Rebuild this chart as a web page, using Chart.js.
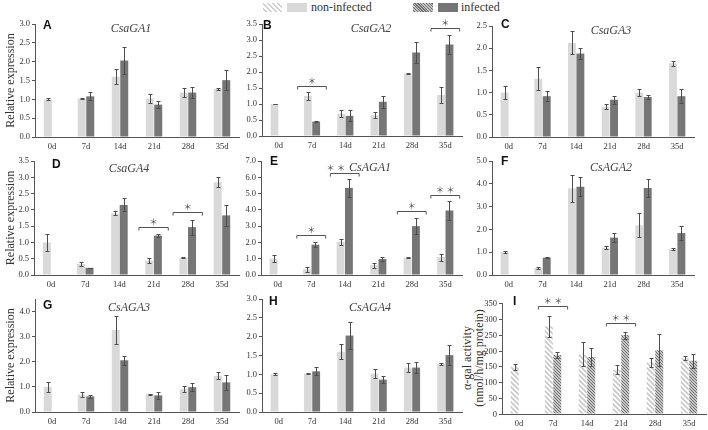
<!DOCTYPE html>
<html lang="en">
<head>
<meta charset="UTF-8" />
<title>GA / AGA expression and alpha-gal activity</title>
<script src="https://cdn.jsdelivr.net/npm/chart.js"></script>
<style>
  body { margin: 0; width: 708px; height: 430px; position: relative; overflow: hidden; background: #fff; font-family: 'Liberation Serif', 'Times New Roman', 'DejaVu Serif', serif; }
  canvas { position: absolute; }
  .lg { position: absolute; top: 3px; height: 9px; }
  .lg-text { position: absolute; top: 0; font-size: 12px; line-height: 15px; color: #333; }
  .side { position: absolute; width: 130px; height: 12px; line-height: 12px; font-size: 12px; text-align: center; color: #333; transform: rotate(-90deg); white-space: nowrap; }
</style>
</head>
<body>
  <!-- shared legend -->
  <div class="lg" style="left:263px;width:19px;background:repeating-linear-gradient(45deg,#fff 0 2px,#cfcfcf 2px 3.5px);"></div>
  <div class="lg" style="left:287px;width:20px;background:#d9d9d9;"></div>
  <div class="lg-text" style="left:311px;">non-infected</div>
  <div class="lg" style="left:413px;width:20px;background:repeating-linear-gradient(45deg,#c4c4c4 0 1px,#707070 1px 2px);"></div>
  <div class="lg" style="left:438px;width:20px;background:#767676;"></div>
  <div class="lg-text" style="left:461px;">infected</div>
  <!-- y title of panel I -->
  <div class="side" style="left:402px;top:352px;">α-gal activity</div>
  <div class="side" style="left:414px;top:352px;">(nmol/h/mg protein)</div>

<script>
  const days = ['0d', '7d', '14d', '21d', '28d', '35d'];

  // A  CsaGA1
  const csaGA1Non = [1.00, 1.02, 1.60, 1.02, 1.18, 1.28];
  const csaGA1NonSd = [0.03, 0.02, 0.20, 0.12, 0.11, 0.03];
  const csaGA1Inf = [null, 1.08, 2.03, 0.86, 1.18, 1.51];
  const csaGA1InfSd = [null, 0.11, 0.35, 0.10, 0.15, 0.26];

  // B  CsaGA2
  const csaGA2Non = [1.00, 1.25, 0.70, 0.65, 1.95, 1.28];
  const csaGA2NonSd = [0.01, 0.11, 0.10, 0.09, 0.01, 0.26];
  const csaGA2Inf = [null, 0.45, 0.63, 1.07, 2.61, 2.86];
  const csaGA2InfSd = [null, 0.01, 0.17, 0.18, 0.32, 0.29];
  const csaGA2Sig = [[1, 1.57, '*'], [5, 3.39, '*']];

  // C  CsaGA3
  const csaGA3Non = [1.00, 1.31, 2.12, 0.68, 1.00, 1.66];
  const csaGA3NonSd = [0.15, 0.26, 0.26, 0.06, 0.08, 0.06];
  const csaGA3Inf = [null, 0.92, 1.88, 0.84, 0.90, 0.92];
  const csaGA3InfSd = [null, 0.12, 0.12, 0.09, 0.04, 0.15];

  // D  CsaGA4
  const csaGA4Non = [1.00, 0.34, 1.89, 0.44, 0.53, 2.85];
  const csaGA4NonSd = [0.27, 0.07, 0.06, 0.08, 0.02, 0.15];
  const csaGA4Inf = [null, 0.22, 2.15, 1.21, 1.47, 1.83];
  const csaGA4InfSd = [null, 0.01, 0.20, 0.05, 0.23, 0.32];
  const csaGA4Sig = [[3, 1.48, '*'], [4, 1.92, '*']];

  // E  CsAGA1  (4th item: sideways nudge of the stars)
  const csAGA1Non = [1.00, 0.35, 2.04, 0.60, 1.06, 1.10];
  const csAGA1NonSd = [0.20, 0.14, 0.20, 0.14, 0.03, 0.22];
  const csAGA1Inf = [null, 1.86, 5.35, 0.98, 3.00, 3.96];
  const csAGA1InfSd = [null, 0.14, 0.53, 0.10, 0.47, 0.57];
  const csAGA1Sig = [[1, 2.47, '*'], [2, 6.27, '**', -9], [4, 3.92, '*'], [5, 4.94, '**']];

  // F  CsAGA2
  const csAGA2Non = [1.00, 0.31, 3.80, 1.20, 2.18, 1.13];
  const csAGA2NonSd = [0.04, 0.04, 0.60, 0.06, 0.53, 0.04];
  const csAGA2Inf = [null, 0.76, 3.87, 1.64, 3.82, 1.84];
  const csAGA2InfSd = [null, 0.02, 0.42, 0.20, 0.38, 0.31];

  // G  CsAGA3
  const csAGA3Non = [1.00, 0.69, 3.27, 0.71, 0.91, 1.44];
  const csAGA3NonSd = [0.20, 0.10, 0.56, 0.02, 0.12, 0.14];
  const csAGA3Inf = [null, 0.62, 2.06, 0.66, 0.99, 1.18];
  const csAGA3InfSd = [null, 0.07, 0.17, 0.13, 0.16, 0.29];

  // H  CsAGA4
  const csAGA4Non = [1.00, 1.02, 1.60, 1.02, 1.18, 1.28];
  const csAGA4NonSd = [0.03, 0.02, 0.20, 0.12, 0.11, 0.03];
  const csAGA4Inf = [null, 1.08, 2.03, 0.86, 1.18, 1.51];
  const csAGA4InfSd = [null, 0.11, 0.35, 0.10, 0.15, 0.26];

  // I  alpha-gal activity (nmol/h/mg protein)
  const galNon = [149, 277, 188, 140, 163, 176];
  const galNonSd = [9, 33, 38, 15, 15, 7];
  const galInf = [null, 186, 180, 249, 201, 168];
  const galInfSd = [null, 8, 29, 11, 51, 22];
  const galSig = [[1, 340, '**'], [3, 287, '**']];
  const galTicks = [0, 50, 100, 150, 200, 250, 300, 350];

  // y axis ranges [max, step]
  const yA = [3, 0.5], yB = [3.5, 0.5], yC = [2.5, 0.5], yD = [3.5, 0.5], yE = [7, 1];
  const yF = [5, 0.5], yG = [4.5, 0.5], yH = [3, 0.5], yI = [350, 50];

  const SERIF = "'Liberation Serif', 'Times New Roman', 'DejaVu Serif', serif";
  const LIGHT = '#d9d9d9';
  const DARK = '#767676';
  const AXIS = '#555';

  function hatch(bg, fg, gap, lw) {
    const c = document.createElement('canvas');
    c.width = gap; c.height = gap;
    const g = c.getContext('2d');
    g.fillStyle = bg;
    g.fillRect(0, 0, gap, gap);
    g.strokeStyle = fg;
    g.lineWidth = lw;
    g.beginPath();
    g.moveTo(-1, -1); g.lineTo(gap + 1, gap + 1);
    g.moveTo(-1, gap - 1); g.lineTo(1, gap + 1);
    g.moveTo(gap - 1, -1); g.lineTo(gap + 1, 1);
    g.stroke();
    return g.createPattern(c, 'repeat');
  }
  const lightHatch = hatch('#ffffff', '#c8c8c8', 5, 1.6);
  const denseHatch = hatch('#c8c8c8', '#6e6e6e', 3, 1);

  const panels = [
    { letter: 'A', gene: 'CsaGA1', non: csaGA1Non, nonSd: csaGA1NonSd, inf: csaGA1Inf, infSd: csaGA1InfSd, y: yA,
      left: 0, l: 35, r: 239, t: 24, b: 137, ld: [8, 1.5], gd: [96, 5], yTitle: 'Relative expression' },
    { letter: 'B', gene: 'CsaGA2', non: csaGA2Non, nonSd: csaGA2NonSd, inf: csaGA2Inf, infSd: csaGA2InfSd, y: yB, sig: csaGA2Sig,
      left: 232, l: 262, r: 462, t: 24, b: 136, ld: [1, 1.5], gd: [109, 5] },
    { letter: 'C', gene: 'CsaGA3', non: csaGA3Non, nonSd: csaGA3NonSd, inf: csaGA3Inf, infSd: csaGA3InfSd, y: yC,
      left: 466, l: 492, r: 694, t: 26, b: 137, ld: [9, -1], gd: [119, 5] },
    { letter: 'D', gene: 'CsaGA4', non: csaGA4Non, nonSd: csaGA4NonSd, inf: csaGA4Inf, infSd: csaGA4InfSd, y: yD, sig: csaGA4Sig,
      left: 0, l: 34, r: 239, t: 161, b: 275.5, ld: [18, 3.5], gd: [95, 8], yTitle: 'Relative expression' },
    { letter: 'E', gene: 'CsAGA1', non: csAGA1Non, nonSd: csAGA1NonSd, inf: csAGA1Inf, infSd: csAGA1InfSd, y: yE, sig: csAGA1Sig,
      left: 232, l: 261, r: 462, t: 161, b: 275.5, ld: [9, 1], gd: [109, 7] },
    { letter: 'F', gene: 'CsAGA2', non: csAGA2Non, nonSd: csAGA2NonSd, inf: csAGA2Inf, infSd: csAGA2InfSd, y: yF,
      left: 466, l: 492, r: 694, t: 161, b: 275.5, ld: [9, 1], gd: [119, 7] },
    { letter: 'G', gene: 'CsAGA3', non: csAGA3Non, nonSd: csAGA3NonSd, inf: csAGA3Inf, infSd: csAGA3InfSd, y: yG,
      left: 0, l: 35, r: 239, t: 299, b: 412, ld: [8, 7], gd: [94, 9], yTitle: 'Relative expression' },
    { letter: 'H', gene: 'CsAGA4', non: csAGA4Non, nonSd: csAGA4NonSd, inf: csAGA4Inf, infSd: csAGA4InfSd, y: yH,
      left: 232, l: 262, r: 462, t: 299, b: 412, ld: [7, 3], gd: [108, 9] },
    { letter: 'I', gene: '', non: galNon, nonSd: galNonSd, inf: galInf, infSd: galInfSd, y: yI, sig: galSig, hatched: true,
      ownTicks: galTicks, left: 458, l: 502, r: 706, t: 303, b: 414, ld: [11, -1.5], gd: [0, 0] }
  ];

  function makePanel(p) {
    const padTop = 14, padRight = 2, xh = 20;
    const cv = document.createElement('canvas');
    const top = p.t - padTop;
    cv.width = Math.min(708, p.r + padRight) - p.left;
    cv.height = p.b + xh - top;
    cv.style.left = p.left + 'px';
    cv.style.top = top + 'px';
    document.body.appendChild(cv);

    // error bars on every bar
    const errorBars = {
      id: 'errorBars',
      afterDatasetsDraw(chart) {
        const ctx = chart.ctx, ys = chart.scales.y;
        ctx.save();
        ctx.strokeStyle = '#4d4d4d';
        ctx.lineWidth = 1;
        chart.data.datasets.forEach((ds, di) => {
          chart.getDatasetMeta(di).data.forEach((bar, i) => {
            const v = ds.data[i], e = ds.err[i];
            if (v == null || e == null) return;
            const x = Math.round(bar.x) + 0.5;
            const y1 = Math.round(ys.getPixelForValue(v + e)) + 0.5;
            const y2 = Math.round(ys.getPixelForValue(v - e)) + 0.5;
            ctx.beginPath();
            ctx.moveTo(x, y1); ctx.lineTo(x, y2);
            ctx.moveTo(x - 2, y1); ctx.lineTo(x + 2, y1);
            ctx.moveTo(x - 2, y2); ctx.lineTo(x + 2, y2);
            ctx.stroke();
          });
        });
        ctx.restore();
      }
    };

    // significance brackets, panel letter, gene name (and tick labels for panel I)
    const notes = {
      id: 'notes',
      afterDraw(chart) {
        const ctx = chart.ctx, xs = chart.scales.x, ys = chart.scales.y, area = chart.chartArea;
        ctx.save();
        if (p.ownTicks) {
          ctx.strokeStyle = AXIS;
          ctx.lineWidth = 1;
          ctx.fillStyle = '#333';
          ctx.font = '8.5px ' + SERIF;
          ctx.textAlign = 'right';
          ctx.textBaseline = 'middle';
          p.ownTicks.forEach(v => {
            const ty = Math.round(ys.getPixelForValue(v)) + 0.5;
            ctx.beginPath();
            ctx.moveTo(area.left - 3, ty); ctx.lineTo(area.left, ty);
            ctx.stroke();
            ctx.fillText(String(v), area.left - 5, ty);
          });
        }
        const half = 0.43 * (xs.getPixelForValue(1) - xs.getPixelForValue(0));
        (p.sig || []).forEach(([idx, val, mark, nudge]) => {
          const cx = xs.getPixelForValue(idx);
          const by = Math.round(ys.getPixelForValue(val)) + 0.5;
          ctx.strokeStyle = '#555';
          ctx.lineWidth = 1;
          ctx.beginPath();
          ctx.moveTo(cx - half, by + 3); ctx.lineTo(cx - half, by);
          ctx.lineTo(cx + half, by); ctx.lineTo(cx + half, by + 3);
          ctx.stroke();
          ctx.fillStyle = '#444';
          ctx.font = '8.5px "Noto Sans CJK SC"';
          ctx.textAlign = 'center';
          ctx.textBaseline = 'middle';
          ctx.fillText(mark === '**' ? '＊ ＊' : '＊', cx + (nudge || 0), by - 6);
        });
        ctx.fillStyle = '#111';
        ctx.font = 'bold 12px "Liberation Sans", Arial, sans-serif';
        ctx.textAlign = 'left';
        ctx.textBaseline = 'middle';
        ctx.fillText(p.letter, area.left + p.ld[0], area.top + p.ld[1]);
        if (p.gene) {
          ctx.fillStyle = '#444';
          ctx.font = 'italic 12px ' + SERIF;
          ctx.textAlign = 'center';
          ctx.fillText(p.gene, area.left + p.gd[0], area.top + p.gd[1]);
        }
        ctx.restore();
      }
    };

    new Chart(cv, {
      type: 'bar',
      data: {
        labels: days,
        datasets: [
          { label: 'non-infected', data: p.non, err: p.nonSd, backgroundColor: p.hatched ? lightHatch : LIGHT },
          { label: 'infected', data: p.inf, err: p.infSd, backgroundColor: p.hatched ? denseHatch : DARK }
        ]
      },
      options: {
        responsive: false,
        animation: false,
        devicePixelRatio: 1,
        categoryPercentage: 0.5,
        barPercentage: 0.94,
        layout: { padding: { top: padTop, right: padRight, left: 0, bottom: 0 } },
        plugins: { legend: { display: false }, tooltip: { enabled: false } },
        scales: {
          x: {
            grid: { display: false, drawTicks: false },
            border: { color: AXIS },
            ticks: { font: { family: SERIF, size: 8.5 }, color: '#333', padding: 5, maxRotation: 0 },
            afterFit: s => { s.height = xh; }
          },
          y: {
            min: 0,
            max: p.y[0],
            ticks: {
              display: !p.ownTicks,
              stepSize: p.y[1],
              font: { family: SERIF, size: 8.5 },
              color: '#333',
              padding: 2,
              callback: v => v.toFixed(1)
            },
            grid: { drawOnChartArea: false, drawTicks: !p.ownTicks, tickLength: 3, color: AXIS },
            border: { color: AXIS },
            title: {
              display: !!p.yTitle,
              text: p.yTitle || '',
              font: { family: SERIF, size: 12 },
              color: '#333',
              padding: { top: 4, bottom: 0 }
            },
            afterFit: s => { s.width = p.l - p.left; }
          }
        }
      },
      plugins: [errorBars, notes]
    });
  }

  panels.forEach(makePanel);
</script>
</body>
</html>
